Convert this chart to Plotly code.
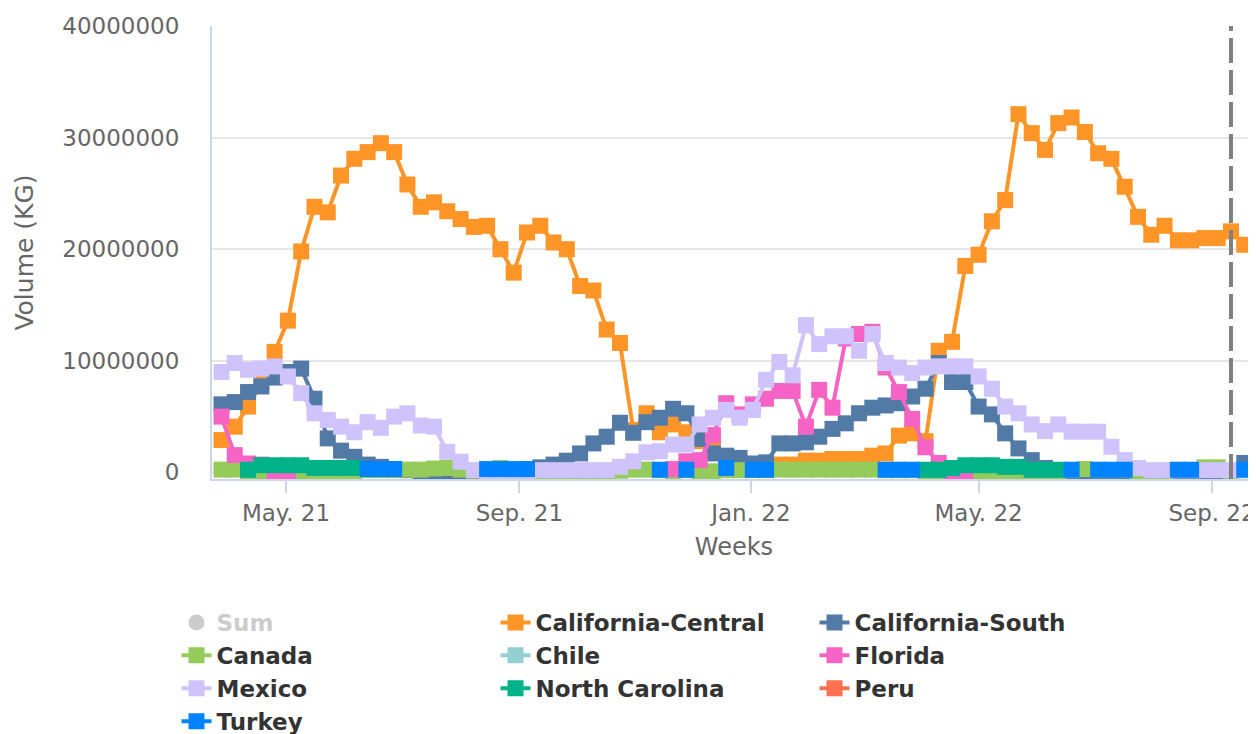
import pandas as pd
import plotly.graph_objects as go

N = None
# ---- categories: weekly periods (Sundays) ----
WEEK_START = "2021-03-28"
N_WEEKS = 78
weeks = pd.date_range(WEEK_START, periods=N_WEEKS, freq="7D")

# ---- series values (millions of KG) ----
california_central = [2.9, 4.1, 5.9, 8.0, 10.8, 13.6, 19.8, 23.8, 23.3, 26.6,
                      28.1, 28.7, 29.5, 28.7, 25.8, 23.8, 24.2, 23.4, 22.7, 22.0,
                      22.1, 20.0, 17.9, 21.5, 22.1, 20.6, 20.0, 16.7, 16.3, 12.8,
                      11.6, 3.8, 5.3, 3.6, 4.3, 3.6, 2.8, 2.2, 1.2, 0.8,
                      0.6, 0.6, 0.7, 0.7, 1.05, 1.05, 1.2, 1.2, 1.2, 1.5,
                      1.7, 3.3, 3.5, 2.8, 10.9, 11.7, 18.5, 19.5, 22.5, 24.4,
                      32.1, 30.4, 28.9, 31.3, 31.8, 30.5, 28.6, 28.1, 25.6, 22.9,
                      21.3, 22.1, 20.8, 20.8, 21.0, 21.0, 21.6, 20.4]
california_south = [6.1, 6.3, 7.2, 7.7, 8.5, 9.0, 9.3, 6.6, 3.05, 1.95,
                    1.4, 0.7, 0.5, 0.3, 0.2, 0.1, 0.1, 0.1, 0.1, 0.1,
                    0.1, 0.1, 0.2, 0.3, 0.45, 0.7, 1.05, 1.7, 2.6, 3.2,
                    4.45, 3.55, 4.5, 4.9, 5.7, 5.3, 3.0, 1.7, 1.5, 1.3,
                    0.8, 0.9, 2.6, 2.6, 2.7, 3.2, 3.9, 4.4, 5.3, 5.8,
                    6.0, 6.2, 6.8, 7.5, 9.8, 8.1, 8.1, 5.9, 5.2, 3.5,
                    2.15, 1.1, 0.4, 0.2, 0.1, 0.1, 0.1, 0.1, 0.1, 0.1,
                    0.1, 0.1, 0.1, 0.1, 0.1, 0.1, 0.1, 0.85]
canada = [0.25, 0.25, 0.1, 0.05, 0.05, 0.1, 0.1, 0.05, 0.05, 0.1,
          0.1, 0.2, 0.2, 0.2, 0.25, 0.25, 0.35, 0.4, 0.25, 0.15,
          0.2, 0.4, 0.2, 0.2, 0.05, 0.05, 0.05, 0.05, 0.05, 0.1,
          0.15, 0.25, 0.25, 0.2, 0.1, 0.2, 0.1, 0.1, 0.2, 0.2,
          0.2, 0.2, 0.25, 0.25, 0.25, 0.25, 0.25, 0.25, 0.25, 0.25,
          0.2, 0.2, 0.2, 0.1, 0.05, 0.05, 0.1, 0.1, 0.05, 0.05,
          0.1, 0.05, 0.05, 0.05, 0.2, 0.3, 0.2, 0.2, 0.2, 0.05,
          0.05, 0.05, 0.2, 0.2, 0.45, 0.45, 0.1, 0.2]
chile = [N] * N_WEEKS
florida = [5.0, 1.55, 0.8, 0.7, 0.05, 0.05, N, N, N, N,
           N, N, N, N, N, N, N, N, N, N,
           N, N, N, N, N, N, N, N, N, N,
           N, N, N, N, 0.3, 1.0, 1.1, 3.35, 6.2, 5.2,
           6.1, 6.6, 7.3, 7.3, 4.1, 7.4, 5.8, 12.0, 12.4, 12.6,
           9.4, 7.2, 4.8, 2.25, 0.85, 0.1, 0.0, N, N, N,
           N, N, N, N, N, N, N, N, N, N,
           N, N, N, N, N, N, N, N]
mexico = [9.0, 9.8, 9.2, 9.3, 9.5, 8.6, 7.1, 5.3, 4.7, 4.1,
          3.6, 4.5, 4.0, 5.0, 5.3, 4.2, 4.1, 1.85, 0.96, 0.2,
          0.1, 0.1, 0.05, 0.1, 0.2, 0.2, 0.2, 0.2, 0.2, 0.2,
          0.5, 1.0, 1.8, 1.9, 2.5, 2.5, 4.3, 4.9, 5.6, 4.9,
          5.6, 8.3, 9.9, 8.7, 13.2, 11.5, 12.2, 12.2, 10.9, 12.4,
          9.8, 9.4, 8.9, 9.4, 9.5, 9.5, 9.5, 8.6, 7.5, 5.9,
          5.3, 4.3, 3.7, 4.3, 3.65, 3.65, 3.65, 2.3, 1.1, 0.4,
          0.2, 0.2, 0.2, 0.2, 0.2, 0.2, 0.2, 0.2]
north_carolina = [N, N, 0.24, 0.64, 0.64, 0.64, 0.64, 0.4, 0.4, 0.4,
                  0.4, N, N, N, N, N, N, N, N, N,
                  N, N, N, N, N, N, N, N, N, N,
                  N, N, N, N, N, N, N, N, N, N,
                  N, N, N, N, N, N, N, N, N, N,
                  N, N, N, 0.24, 0.24, 0.4, 0.64, 0.64, 0.64, 0.5,
                  0.5, 0.24, 0.24, 0.24, N, N, N, N, N, N,
                  N, N, N, N, N, N, N, N]
peru = [N] * N_WEEKS
turkey = [N, N, N, N, N, N, N, N, N, N,
          N, 0.3, 0.3, 0.3, N, N, N, N, N, N,
          0.3, 0.3, 0.3, 0.3, N, N, N, N, N, N,
          N, N, N, 0.24, N, 0.24, N, N, 0.4, N,
          0.24, 0.24, N, N, N, N, N, N, N, N,
          0.24, 0.24, 0.24, N, N, N, N, N, N, N,
          N, N, N, N, 0.24, N, 0.24, 0.24, 0.24, N,
          N, N, 0.24, 0.24, N, N, N, 0.24]

series_names = ["California-Central", "California-South", "Canada", "Chile", "Florida",
                "Mexico", "North Carolina", "Peru", "Turkey"]
series_values = [california_central, california_south, canada, chile, florida,
                 mexico, north_carolina, peru, turkey]
series_colors = ["#ff9526", "#527aa6", "#94cb5a", "#93d0d1", "#f564c4",
                 "#cfc3fc", "#00b288", "#ff7150", "#0083ff"]

# ---- axis ticks ----
x_tick_dates = ["2021-05-01", "2021-09-01", "2022-01-01", "2022-05-01", "2022-09-01"]
x_tick_text = ["May. 21", "Sep. 21", "Jan. 22", "May. 22", "Sep. 22"]
y_tick_vals = [0, 10000000, 20000000, 30000000, 40000000]
y_tick_text = ["0", "10000000", "20000000", "30000000", "40000000"]
current_week = "2022-09-11"

SCALE = 1e6


def to_kg(vals):
    return [None if v is None else v * SCALE for v in vals]


sum_values = [sum((s[i] or 0) for s in series_values) for i in range(N_WEEKS)]

FONT = "DejaVu Sans"
fig = go.Figure()

fig.add_trace(go.Scatter(
    x=weeks, y=to_kg(sum_values),
    name="<span style='color:#999999'>Sum</span>", mode="markers",
    visible="legendonly",
    marker=dict(symbol="circle", size=16, color="#999999"),
))

for name, vals, col in zip(series_names, series_values, series_colors):
    fig.add_trace(go.Scatter(
        x=weeks, y=to_kg(vals), name=name, mode="lines+markers",
        line=dict(color=col, width=4),
        marker=dict(symbol="square", size=16, color=col),
        connectgaps=False,
    ))

fig.add_shape(type="line", xref="x", yref="paper", x0=current_week, x1=current_week,
              y0=0, y1=1, line=dict(color="#808080", width=4, dash="25px,7px"),
              layer="above")

fig.update_layout(
    width=1248, height=726,
    margin=dict(l=204, r=0, t=18, b=255, autoexpand=False),
    paper_bgcolor="white", plot_bgcolor="white",
    font=dict(family=FONT, color="#666666"),
    showlegend=True,
    legend=dict(
        orientation="h", x=-0.034, xanchor="left", y=-0.2693, yanchor="top",
        font=dict(family=FONT, size=23, color="#333333", weight="bold"),
        entrywidth=274, entrywidthmode="pixels", itemwidth=30,
        bgcolor="rgba(0,0,0,0)", traceorder="normal",
    ),
    xaxis=dict(
        type="date", range=["2021-03-23 00:00", "2022-09-24 04:30"],
        tickvals=x_tick_dates, ticktext=x_tick_text,
        ticks="outside", ticklen=12, tickwidth=2, tickcolor="#ccd6eb",
        showline=True, linecolor="#ccd6eb", linewidth=2,
        showgrid=False, zeroline=False,
        tickfont=dict(family=FONT, size=23, color="#666666"),
        title=dict(text="Weeks", font=dict(family=FONT, size=24, color="#666666"), standoff=14),
        automargin=False,
    ),
    yaxis=dict(
        range=[-0.59e6, 40e6],
        tickvals=y_tick_vals, ticktext=y_tick_text,
        showgrid=True, gridcolor="#e6e6e6", gridwidth=2,
        zeroline=False, showline=True, linecolor="#ccd6eb", linewidth=2,
        ticks="", ticklabelstandoff=26,
        tickfont=dict(family=FONT, size=23, color="#666666"),
        title=dict(text="Volume (KG)", font=dict(family=FONT, size=25, color="#666666"), standoff=22),
        automargin=False,
    ),
)

fig.write_html("out.html")
